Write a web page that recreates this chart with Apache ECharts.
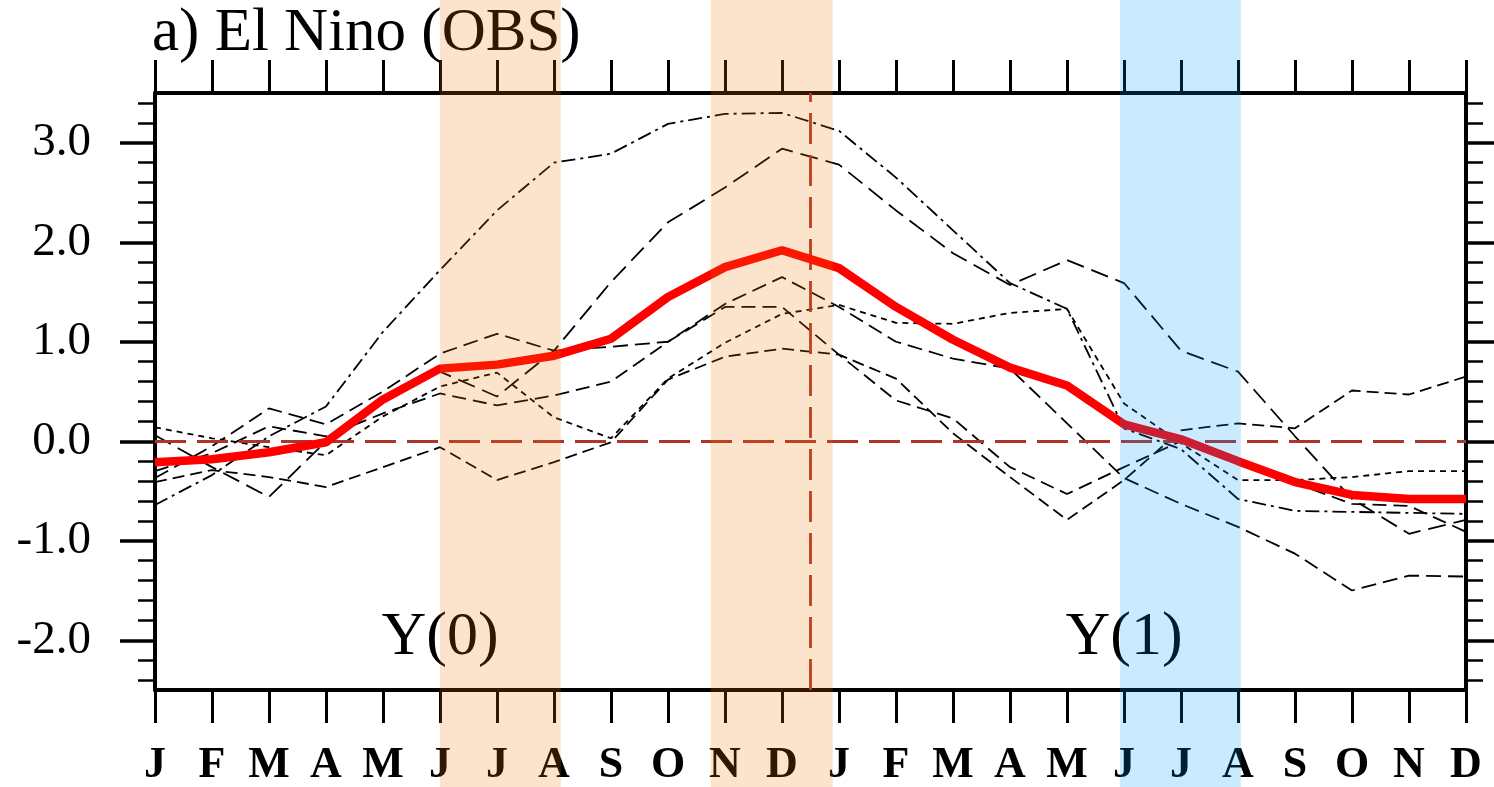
<!DOCTYPE html>
<html><head><meta charset="utf-8">
<script src="https://cdn.jsdelivr.net/npm/echarts@6/dist/echarts.min.js"></script>
<style>html,body{margin:0;padding:0;background:#fff;}#c{width:1494px;height:787px;}</style>
</head><body><div id="c"></div>
<script>
const months = ['J','F','M','A','M','J','J','A','S','O','N','D','J','F','M','A','M','J','J','A','S','O','N','D'];
const yMajor = [-2,-1,0,1,2,3];
const yMinor = [-2.4,-2.2,-1.8,-1.6,-1.4,-1.2,-0.8,-0.6,-0.4,-0.2,0.2,0.4,0.6,0.8,1.2,1.4,1.6,1.8,2.2,2.4,2.6,2.8,3.2,3.4];

const meanObs = [-0.21,-0.18,-0.11,-0.01,0.42,0.73,0.77,0.86,1.03,1.45,1.75,1.92,1.74,1.35,1.02,0.74,0.56,0.17,0.02,-0.20,-0.41,-0.54,-0.58,-0.58];
const eventA = [-0.64,-0.34,0.05,0.35,1.10,1.72,2.32,2.80,2.89,3.19,3.29,3.30,3.12,2.65,2.12,1.59,1.33,0.13,-0.08,-0.58,-0.70,-0.71,-0.72,-0.73];
const eventB = [0.06,-0.26,-0.56,0.00,0.45,0.70,0.45,0.91,1.60,2.20,2.55,2.94,2.78,2.32,1.89,1.57,1.82,1.59,0.91,0.70,0.05,-0.58,-0.93,-0.79];
const eventC = [-0.37,-0.05,0.33,0.17,0.50,0.88,1.08,0.91,0.95,1.00,1.38,1.65,1.35,1.00,0.83,0.73,0.18,-0.37,-0.63,-0.86,-1.13,-1.50,-1.35,-1.36];
const eventD = [-0.41,-0.29,-0.36,-0.46,-0.26,-0.06,-0.39,-0.21,-0.01,0.62,0.85,0.93,0.87,0.63,0.08,-0.36,-0.79,-0.39,0.11,0.18,0.13,0.51,0.47,0.65];
const eventE = [-0.30,-0.12,0.15,0.05,0.28,0.48,0.36,0.46,0.60,1.00,1.35,1.35,0.87,0.41,0.23,-0.26,-0.53,-0.26,0.00,-0.19,-0.42,-0.63,-0.65,-0.91];
const eventF = [0.14,0.03,-0.06,-0.14,0.25,0.55,0.69,0.24,0.03,0.63,0.99,1.28,1.37,1.19,1.18,1.29,1.33,0.38,-0.02,-0.39,-0.39,-0.36,-0.30,-0.30];

const orangeBands = [[5.0,7.12],[9.75,11.89]];
const blueBands = [[16.93,19.05]];
const peakMonth = 11.5;
const periodLabels = [['Y(0)',5],['Y(1)',17]];

const serif = '"Liberation Serif","Times New Roman",serif';
const members = [
  [eventA,[14,5,3,5]],
  [eventB,[18,8]],
  [eventC,[15,7]],
  [eventD,[12,6]],
  [eventE,[14,7]],
  [eventF,[6,5]]
];
const toPts = arr => arr.map((v,i)=>[i,v]);

const chart = echarts.init(document.getElementById('c'));
const series = members.map((m,k)=>({
  type:'line', data:toPts(m[0]), symbol:'none', silent:true, z:3,
  lineStyle:{color:'#000',width:1.8,type:m[1]},
  markLine: k===0 ? {
    symbol:['none','none'], silent:true, label:{show:false},
    lineStyle:{color:'#ad3529',width:2.8,type:[31,11]},
    data:[{yAxis:0},{xAxis:peakMonth}]
  } : undefined
}));
series.push({type:'line', data:toPts(meanObs), symbol:'none', silent:true, z:5,
  lineStyle:{color:'#ff0000',width:8.5}});

const xBase = {type:'value',min:0,max:23,interval:1,
  axisLine:{show:true,onZero:false,lineStyle:{color:'#000',width:4}},
  axisTick:{show:true,length:33,lineStyle:{color:'#000',width:3}},
  splitLine:{show:false}};
const yMain = pos => ({type:'value',min:-2.5,max:3.5,position:pos,
  axisLine:{show:true,onZero:false,lineStyle:{color:'#000',width:4}},
  axisTick:{show:true,length:35,customValues:yMajor,lineStyle:{color:'#000',width:3.5}},
  axisLabel:{show:pos==='left',customValues:yMajor,formatter:v=>v.toFixed(1),
    fontFamily:serif,fontSize:47,color:'#000',margin:64},
  splitLine:{show:false}});
const yMin = pos => ({type:'value',min:-2.5,max:3.5,position:pos,
  axisLine:{show:false,onZero:false},
  axisTick:{show:true,length:17,customValues:yMinor,lineStyle:{color:'#000',width:2.5}},
  axisLabel:{show:false},splitLine:{show:false}});

chart.setOption({
  animation:false,
  backgroundColor:'#fff',
  title:{text:'a) El Nino (OBS)',left:152,top:3,padding:0,
    textStyle:{fontFamily:serif,fontSize:61,fontWeight:'normal',color:'#000'}},
  grid:{left:155,right:28,top:93,bottom:97,containLabel:false,outerBoundsMode:'none'},
  xAxis:[
    Object.assign({},xBase,{position:'bottom',
      axisLabel:{formatter:v=>months[v]||'',fontFamily:serif,fontWeight:'bold',fontSize:44,color:'#000',margin:54}}),
    Object.assign({},xBase,{position:'top',axisLabel:{show:false}})
  ],
  yAxis:[yMain('left'),yMin('left'),yMain('right'),yMin('right')],
  series:series
});

const px = (x,y)=>chart.convertToPixel({xAxisIndex:0,yAxisIndex:0},[x,y]);
const graphics = [];
orangeBands.concat(blueBands).forEach((b,i)=>{
  const x0 = px(b[0],0)[0], x1 = px(b[1],0)[0];
  graphics.push({type:'rect',z:100,silent:true,
    shape:{x:x0,y:0,width:x1-x0,height:787},
    style:{fill: i<orangeBands.length ? 'rgba(240,120,0,0.2)' : 'rgba(0,150,250,0.2)'}});
});
periodLabels.forEach(p=>{
  const c = px(p[1],-1.97);
  graphics.push({type:'text',z:50,silent:true,
    style:{text:p[0],x:c[0],y:c[1],textAlign:'center',textVerticalAlign:'middle',
      font:'62px '+serif,fill:'#000'}});
});
chart.setOption({graphic:graphics});
</script></body></html>
